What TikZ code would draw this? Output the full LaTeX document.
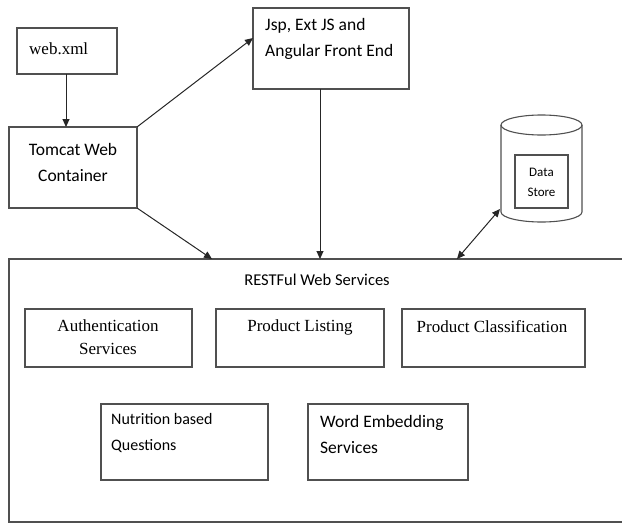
\documentclass[tikz,border=0pt]{standalone}
\usepackage{fontspec}
\setmainfont{Liberation Serif}
\newfontfamily\calfont{Carlito}
\usetikzlibrary{arrows.meta}
\definecolor{edge}{HTML}{505050}
\begin{document}
\begin{tikzpicture}[x=1pt,y=-1pt,
  box/.style={draw=edge,line width=1.3pt},
  conn/.style={draw=black!85,line width=1pt,-{Triangle[length=8pt,width=7pt]}},
  tms/.style={font=\fontsize{17}{23}\selectfont,align=center,inner sep=0pt},
  clb/.style={font=\calfont\fontsize{17.5}{26}\selectfont,inner sep=0pt},
]
\useasboundingbox (0,0) rectangle (622,525);
% boxes
\draw[box] (17,28) rectangle (117,74);
\coordinate (webtop) at (66,74);
\node[tms,anchor=west] (webtxt) at (29,49) {web.xml};
\draw[box] (9,127) rectangle (137,208);
\coordinate (tomtop) at (66,127);
\coordinate (tomtr) at (137,127);
\coordinate (tombr) at (137,208);
\node[clb,align=center] (tomtxt) at (73,162) {Tomcat Web\\Container};
\draw[box] (253,8) rectangle (409,89);
\coordinate (jspl) at (253,38);
\coordinate (jspb) at (320,89);
\node[clb,align=left,anchor=north west] (jsptxt) at (265,18) {Jsp, Ext JS and\\Angular Front End};
% RESTful
\draw[box] (640,259) -- (9,259) -- (9,522) -- (640,522);
\coordinate (resta) at (212,259);
\coordinate (restb) at (320,259);
\coordinate (restc) at (457,259);
\node[clb,font=\calfont\fontsize{16.5}{20}\selectfont] (resttxt) at (317,280) {RESTFul Web Services};
\draw[box] (25,309) rectangle (192,367);
\node[tms,align=center] (auth) at (108,337) {Authentication\\Services};
\draw[box] (216,309) rectangle (384,367);
\node[tms] (plist) at (300,327) {Product Listing};
\draw[box] (402,309) rectangle (585,367);
\node[tms] (pclass) at (492,327) {Product Classification};
\draw[box] (101,404) rectangle (268,480);
\node[clb,align=left,anchor=north west,font=\calfont\fontsize{16}{26}\selectfont] (nut) at (111,413) {Nutrition based\\Questions};
\draw[box] (308,404) rectangle (468,480);
\node[clb,align=left,anchor=north west] (word) at (320,415) {Word Embedding\\Services};
% data store cylinder
\draw[edge,line width=1.1pt,fill=white] (501,125) -- (501,212) arc[start angle=180,end angle=0,x radius=40.5,y radius=10] -- (582,125);
\draw[edge,line width=1.1pt] (541.5,125) ellipse[x radius=40.5,y radius=10];
\draw[edge,line width=1.1pt] (515,155) rectangle (568,208);
\node[clb,align=center,font=\calfont\fontsize{13}{20}\selectfont] (ds) at (541.5,182) {Data\\Store};
\coordinate (dsl) at (500,209);
% connectors
\draw[conn] (webtop) -- (tomtop);
\draw[conn] (tomtr) -- (jspl);
\draw[conn] (tombr) -- (resta);
\draw[conn] (jspb) -- (restb);
\draw[conn,{Triangle[length=8pt,width=7pt]}-{Triangle[length=8pt,width=7pt]}] (restc) -- (dsl);
\end{tikzpicture}
\end{document}
